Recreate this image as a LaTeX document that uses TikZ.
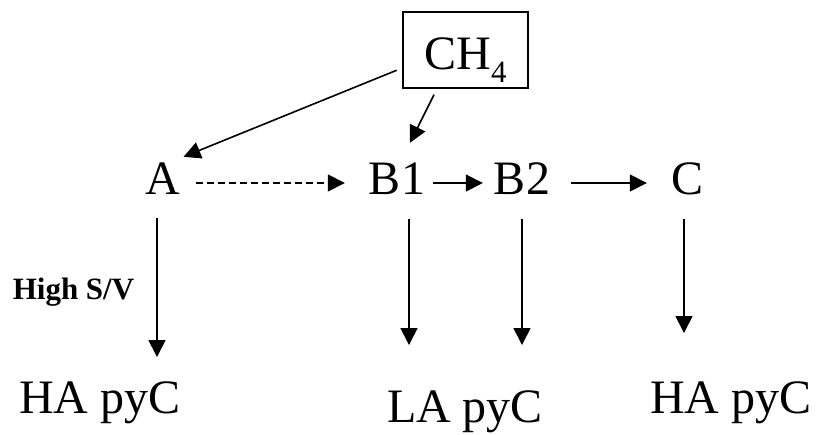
\documentclass[tikz,border=0pt]{standalone}
\usepackage{fontspec}
\setmainfont{Liberation Serif}
\usetikzlibrary{arrows.meta}
\begin{document}
\begin{tikzpicture}[x=1pt,y=1pt,
  big/.style={font=\fontsize{48}{56}\selectfont, inner sep=0pt, anchor=base},
  mid/.style={big, text height=24pt, text depth=0pt},
  arr/.style={-{Triangle[length=17pt,width=17pt]}, line width=1.6pt},
  dsh/.style={arr, dash pattern=on 7pt off 4pt}]
\useasboundingbox (0,0) rectangle (822,434);
\node[draw, line width=1.5pt, inner sep=0pt, minimum width=125pt, minimum height=76pt,
      font=\fontsize{48}{56}\selectfont, text height=42pt, text depth=2pt]
  (CH4) at (465.5,384) {CH\raisebox{-13pt}{\fontsize{31}{31}\selectfont 4}};
\node[mid] (A)  at (163,239) {A};
\node[mid] (B1) at (397,239) {B1};
\node[mid] (B2) at (522,239) {B2};
\node[mid] (C)  at (688,239) {C};
\node[big] (HA1) at (100,21) {HA pyC};
\node[big] (LA)  at (465,12) {LA pyC};
\node[big] (HA2) at (731,21) {HA pyC};
\node[font=\fontsize{31}{36}\selectfont\bfseries, inner sep=0pt, anchor=base] (SV) at (73.5,134) {High S/V};
% connectors
\draw[arr, shorten <=6pt] ([yshift=-18pt]CH4.west) -- ([shift={(3pt,14pt)}]A.north east);
\draw[arr] ([shift={(-31.5pt,-6pt)}]CH4.south) -- ([shift={(13pt,28pt)}]B1.north);
\draw[dsh, shorten <=15pt, shorten >=24pt] (A.east) -- (B1.west);
\draw[arr, shorten <=8pt, shorten >=11pt] (B1.east) -- (B2.west);
\draw[arr, shorten <=21pt, shorten >=25pt] (B2.east) -- (C.west);
\draw[arr, shorten <=23pt, shorten >=24pt] ([xshift=-6pt]A.south) -- ([xshift=-6pt]A.south |- HA1.north);
\draw[arr, shorten <=24pt, shorten >=45pt] ([xshift=12pt]B1.south) -- ([xshift=12pt]B1.south |- LA.north);
\draw[arr, shorten <=24pt, shorten >=45pt] (B2.south) -- (B2.south |- LA.north);
\draw[arr, shorten <=24pt, shorten >=48pt] ([xshift=-4pt]C.south) -- ([xshift=-4pt]C.south |- HA2.north);
\end{tikzpicture}
\end{document}
